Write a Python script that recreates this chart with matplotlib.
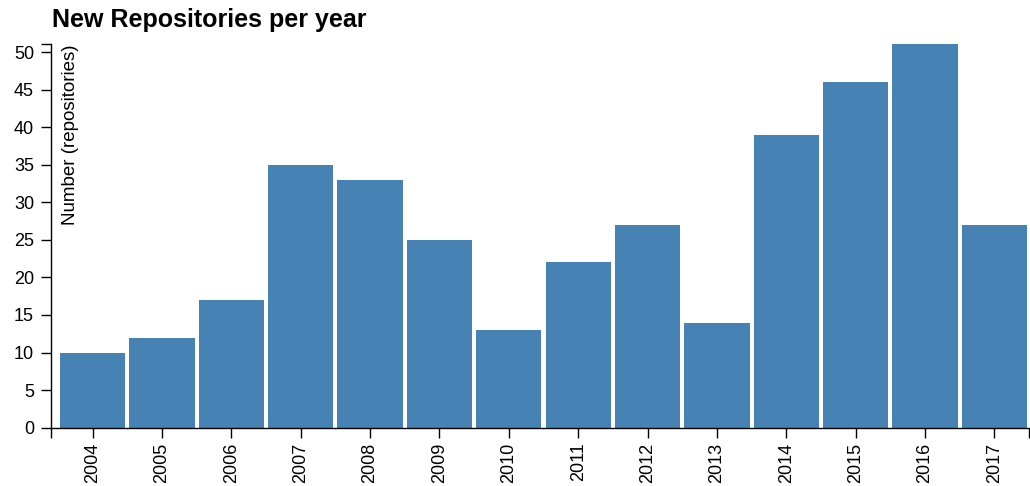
import matplotlib
matplotlib.use("Agg")
import matplotlib.pyplot as plt
import matplotlib.transforms as mtransforms
import numpy as np

years = ["2004", "2005", "2006", "2007", "2008", "2009", "2010",
         "2011", "2012", "2013", "2014", "2015", "2016", "2017"]
counts = [10, 12, 17, 35, 33, 25, 13, 22, 27, 14, 39, 46, 51, 27]
y_ticks = list(range(0, 51, 5))

plt.rcParams['font.family'] = ['Liberation Sans', 'DejaVu Sans']

W, H = 1030, 486
fig = plt.figure(figsize=(W / 100, H / 100), dpi=100)
left_px, right_px = 51, 1029
top_px, bottom_px = 44.5, 427.7
ax = fig.add_axes([left_px / W, (H - bottom_px) / H,
                   (right_px - left_px) / W, (bottom_px - top_px) / H])

x = np.arange(len(years))
ax.bar(x, counts, width=0.942, color='#4682b4', zorder=2)
ax.set_xlim(-0.601, 13.50)
ax.set_ylim(0, 51)

ax.set_yticks(y_ticks)
ax.set_xticks(x)
ax.set_xticklabels(years, rotation=90, ha='center', va='top')

# outer ticks like d3 axis domain
ax.set_yticks([51], minor=True)
ax.set_xticks([-0.601, 13.50], minor=True)

for s in ['top', 'right']:
    ax.spines[s].set_visible(False)
for s in ['left', 'bottom']:
    ax.spines[s].set_linewidth(1.0)
    ax.spines[s].set_color('black')
    ax.spines[s].set_zorder(3)

ax.tick_params(axis='both', which='both', length=7.2, width=1.0,
               color='black', labelcolor='black', labelsize=13)
ax.tick_params(axis='x', which='both', pad=3.6)
ax.tick_params(axis='y', which='both', pad=5)

# y label inside the plot area
off = mtransforms.offset_copy(ax.transAxes, fig=fig, x=10.7, y=0, units='dots')
ax.text(0, 1.0, "Number (repositories)", transform=off, rotation=90,
        ha='left', va='top', fontsize=13.5, color='black')

fig.text(52 / W, 1 - 27 / H, "New Repositories per year", fontsize=18,
         fontweight='bold', ha='left', va='baseline', color='black')

fig.savefig("out.png", dpi=100)
